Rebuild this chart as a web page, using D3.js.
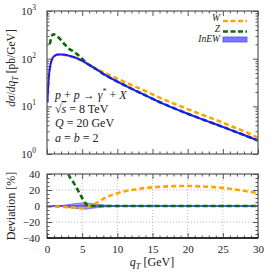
<!DOCTYPE html>
<html>
<head>
<meta charset="utf-8">
<script src="https://d3js.org/d3.v7.min.js"></script>
<style>
body { margin: 0; background: #fff; }
text { font-family: "Liberation Serif", "DejaVu Serif", serif; }
</style>
</head>
<body>
<div id="chart"></div>
<script>
// values
const qT = [0.05, 0.25, 0.5, 0.75, 1, 1.5, 2, 2.5, 3, 4, 5, 6, 7, 8, 9, 10, 12, 14, 16, 18, 20, 22, 24, 26, 28, 30];
const inew = [12, 40, 75, 100, 112, 122, 123, 121, 117, 106, 91, 74, 60, 48, 39.5, 33, 23.5, 17, 12.3, 9.2, 7.0, 5.4, 4.2, 3.25, 2.5, 1.92];
const wModel = [11.9, 39.6, 74, 99, 111, 121, 122, 120, 115, 104, 89, 74, 62, 52, 44.6, 38, 28, 21, 15.2, 11.5, 8.75, 6.7, 5.2, 3.95, 3.0, 2.2];

const zQT = [0.4, 0.6, 0.9, 1.2, 1.5, 2, 2.5, 3, 3.5, 4, 4.5, 5, 5.5, 6, 7, 8, 9, 10, 12, 14, 16, 18, 20, 22, 24, 26, 28, 30];
const zModel = [200, 275, 325, 315, 290, 245, 200, 167, 149, 134, 117, 100, 83, 74, 60, 48, 39.5, 33, 23.5, 17, 12.3, 9.2, 7.0, 5.4, 4.2, 3.25, 2.5, 1.92];

const devQT = [0, 1, 2, 3, 4, 5, 5.5, 6, 7, 8, 9, 10, 12, 14, 16, 18, 20, 22, 24, 26, 28, 30];
const wDev = [-1, -1, -1, -1.5, -2, -2.5, -2, 0, 3.5, 9, 13, 16, 20, 22.5, 24, 24.8, 25, 24.5, 23.5, 21.5, 19, 16];
const bandHalf = [0.2, 0.3, 0.6, 1.8, 3, 3.8, 4, 3.4, 2.3, 1.3, 0.7, 0.4, 0.25, 0.2, 0.2, 0.2, 0.2, 0.2, 0.2, 0.2, 0.2, 0.2];

const zDevQT = [2, 2.5, 3, 3.5, 4, 4.5, 5, 5.5, 6, 30];
const zDev = [99, 65, 41, 33, 26, 18, 10, 3, 0, 0];

const xTicks = [0, 5, 10, 15, 20, 25, 30];
const logTicks = [1, 10, 100, 1000];
const devTicks = [-40, -20, 0, 20, 40];

const legendItems = [
  { label: "W", color: "orange", kind: "dash" },
  { label: "Z", color: "#0b6b0b", kind: "dash" },
  { label: "InEW", color: "#7878ff", kind: "band" }
];

const W = 274, H = 274;
const left = 47, right = 258;
const top1 = 11, bot1 = 154;
const top2 = 174, bot2 = 238;
const frame = "#555";
const orange = "orange", green = "#0b6b0b", blue = "#1a1aff";

const svg = d3.select("#chart").append("svg")
  .attr("width", W).attr("height", H);

const x = d3.scaleLinear().domain([0, 30]).range([left, right]);
const y1 = d3.scaleLog().domain([1, 1000]).range([bot1, top1]);
const y2 = d3.scaleLinear().domain([-40, 40]).range([bot2, top2]);

const defs = svg.append("defs");
defs.append("clipPath").attr("id", "c1").append("rect")
  .attr("x", left).attr("y", top1).attr("width", right - left).attr("height", bot1 - top1);
defs.append("clipPath").attr("id", "c2").append("rect")
  .attr("x", left).attr("y", top2).attr("width", right - left).attr("height", bot2 - top2);

// ---- top panel ----
const p1 = svg.append("g").attr("clip-path", "url(#c1)");

const line1 = (xs, ys) => d3.line()
  .x((d, i) => x(xs[i])).y(d => y1(d))
  .curve(d3.curveMonotoneX)(ys);

p1.append("path").attr("d", line1(qT, wModel))
  .attr("fill", "none").attr("stroke", orange).attr("stroke-width", 2.6)
  .attr("stroke-dasharray", "5,3");
p1.append("path").attr("d", line1(zQT, zModel))
  .attr("fill", "none").attr("stroke", green).attr("stroke-width", 2.6)
  .attr("stroke-dasharray", "5,3");
p1.append("path").attr("d", line1(qT, inew))
  .attr("fill", "none").attr("stroke", blue).attr("stroke-width", 2);

// ---- bottom panel ----
const g2 = svg.append("g");
// dotted grid
g2.selectAll(".gx").data(xTicks.filter(d => d > 0 && d < 30)).join("line")
  .attr("x1", d => x(d)).attr("x2", d => x(d)).attr("y1", top2).attr("y2", bot2)
  .attr("stroke", "#aaa").attr("stroke-width", 0.8).attr("stroke-dasharray", "1,2");
g2.selectAll(".gy").data([-20, 0, 20]).join("line")
  .attr("x1", left).attr("x2", right).attr("y1", d => y2(d)).attr("y2", d => y2(d))
  .attr("stroke", "#aaa").attr("stroke-width", 0.8).attr("stroke-dasharray", "1,2");

const p2 = svg.append("g").attr("clip-path", "url(#c2)");
const band = d3.area()
  .x((d, i) => x(devQT[i]))
  .y0(d => y2(-d)).y1(d => y2(d))
  .curve(d3.curveMonotoneX);
p2.append("path").attr("d", band(bandHalf))
  .attr("fill", "#7878ff").attr("fill-opacity", 0.75)
  .attr("stroke", "#5050ff").attr("stroke-width", 0.6);
p2.append("line").attr("x1", x(0)).attr("x2", x(30)).attr("y1", y2(0)).attr("y2", y2(0))
  .attr("stroke", blue).attr("stroke-width", 1.2);

const line2 = (xs, ys) => d3.line()
  .x((d, i) => x(xs[i])).y(d => y2(d))
  .curve(d3.curveMonotoneX)(ys);
p2.append("path").attr("d", line2(devQT, wDev))
  .attr("fill", "none").attr("stroke", orange).attr("stroke-width", 2.6)
  .attr("stroke-dasharray", "5,3");
p2.append("path").attr("d", line2(zDevQT, zDev))
  .attr("fill", "none").attr("stroke", green).attr("stroke-width", 2.6)
  .attr("stroke-dasharray", "5,3");

// ---- axes and ticks ----
function styleAxis(g) {
  g.select(".domain").remove();
  g.selectAll(".tick line").attr("stroke", frame).attr("stroke-width", 1);
  g.selectAll(".tick text").attr("fill", "#222").attr("font-size", 11);
}
const minorX = d3.range(0, 31, 1).filter(d => d % 5 !== 0);
const minorLog = [];
[1, 10, 100].forEach(b => { for (let k = 2; k <= 9; k++) minorLog.push(b * k); });
const minorDev = d3.range(-40, 41, 5).filter(d => d % 20 !== 0);

// top panel x ticks (no labels)
[[bot1, d3.axisBottom, -5], [top1, d3.axisTop, -5]].forEach(([yy, ax, s]) => {
  svg.append("g").attr("transform", `translate(0,${yy})`)
    .call(ax(x).tickValues(xTicks).tickSize(s).tickFormat("")).call(styleAxis);
  svg.append("g").attr("transform", `translate(0,${yy})`)
    .call(ax(x).tickValues(minorX).tickSize(-2.5).tickFormat("")).call(styleAxis);
});
// top panel y ticks
svg.append("g").attr("transform", `translate(${left},0)`)
  .call(d3.axisLeft(y1).tickValues(logTicks).tickSize(-5).tickPadding(6).tickFormat(""))
  .call(styleAxis);
svg.append("g").attr("transform", `translate(${left},0)`)
  .call(d3.axisLeft(y1).tickValues(minorLog).tickSize(-2.5).tickFormat(""))
  .call(styleAxis);
svg.append("g").attr("transform", `translate(${right},0)`)
  .call(d3.axisRight(y1).tickValues(logTicks).tickSize(-5).tickFormat(""))
  .call(styleAxis);
svg.append("g").attr("transform", `translate(${right},0)`)
  .call(d3.axisRight(y1).tickValues(minorLog).tickSize(-2.5).tickFormat(""))
  .call(styleAxis);
// log labels 10^n
const logLab = svg.append("g").selectAll("text").data(logTicks).join("text")
  .attr("x", 36).attr("y", d => y1(d) + 4)
  .attr("text-anchor", "end").attr("font-size", 11).attr("fill", "#222");
logLab.append("tspan").text("10");
logLab.append("tspan").attr("dy", -5).attr("font-size", 7.5)
  .text(d => String(Math.round(Math.log10(d))));

// bottom panel ticks
svg.append("g").attr("transform", `translate(0,${bot2})`)
  .call(d3.axisBottom(x).tickValues(xTicks).tickSize(-5).tickPadding(7).tickFormat(d3.format("d")))
  .call(styleAxis);
svg.append("g").attr("transform", `translate(0,${bot2})`)
  .call(d3.axisBottom(x).tickValues(minorX).tickSize(-2.5).tickFormat("")).call(styleAxis);
svg.append("g").attr("transform", `translate(0,${top2})`)
  .call(d3.axisTop(x).tickValues(xTicks).tickSize(-5).tickFormat("")).call(styleAxis);
svg.append("g").attr("transform", `translate(0,${top2})`)
  .call(d3.axisTop(x).tickValues(minorX).tickSize(-2.5).tickFormat("")).call(styleAxis);
svg.append("g").attr("transform", `translate(${left},0)`)
  .call(d3.axisLeft(y2).tickValues(devTicks).tickSize(-5).tickPadding(7).tickFormat(d3.format("d")))
  .call(styleAxis);
svg.append("g").attr("transform", `translate(${left},0)`)
  .call(d3.axisLeft(y2).tickValues(minorDev).tickSize(-2.5).tickFormat("")).call(styleAxis);
svg.append("g").attr("transform", `translate(${right},0)`)
  .call(d3.axisRight(y2).tickValues(devTicks).tickSize(-5).tickFormat("")).call(styleAxis);
svg.append("g").attr("transform", `translate(${right},0)`)
  .call(d3.axisRight(y2).tickValues(minorDev).tickSize(-2.5).tickFormat("")).call(styleAxis);

// frames
svg.append("rect").attr("x", left).attr("y", top1).attr("width", right - left).attr("height", bot1 - top1)
  .attr("fill", "none").attr("stroke", frame).attr("stroke-width", 1.2);
svg.append("rect").attr("x", left).attr("y", top2).attr("width", right - left).attr("height", bot2 - top2)
  .attr("fill", "none").attr("stroke", frame).attr("stroke-width", 1.2);
svg.append("line").attr("x1", left).attr("x2", right).attr("y1", bot2).attr("y2", bot2)
  .attr("stroke", "#111").attr("stroke-width", 1.5);

// ---- labels ----
const yl1 = svg.append("text").attr("transform", "translate(15,68) rotate(-90)")
  .attr("text-anchor", "middle").attr("font-size", 11.5).attr("fill", "#222");
yl1.append("tspan").attr("font-style", "italic").text("dσ");
yl1.append("tspan").text("/");
yl1.append("tspan").attr("font-style", "italic").text("dq");
yl1.append("tspan").attr("font-style", "italic").attr("font-size", 8).attr("dy", 3).text("T");
yl1.append("tspan").attr("dy", -3).text(" [pb/GeV]");

svg.append("text").attr("transform", "translate(15,206) rotate(-90)")
  .attr("text-anchor", "middle").attr("font-size", 12).attr("fill", "#222")
  .text("Deviation [%]");

const xl = svg.append("text").attr("x", 152).attr("y", 266)
  .attr("text-anchor", "middle").attr("font-size", 12).attr("fill", "#222");
xl.append("tspan").attr("font-style", "italic").text("q");
xl.append("tspan").attr("font-style", "italic").attr("font-size", 8.5).attr("dy", 3).text("T");
xl.append("tspan").attr("dy", -3).text(" [GeV]");

// process annotation
const ann = svg.append("g").attr("font-size", 12).attr("fill", "#222");
const a1 = ann.append("text").attr("x", 55).attr("y", 99);
a1.append("tspan").attr("font-style", "italic").text("p");
a1.append("tspan").text(" + ");
a1.append("tspan").attr("font-style", "italic").text("p");
a1.append("tspan").text(" → ");
a1.append("tspan").attr("font-style", "italic").text("γ");
a1.append("tspan").attr("font-size", 8).attr("dy", -5).text("*");
a1.append("tspan").attr("dy", 5).text(" + ");
a1.append("tspan").attr("font-style", "italic").text("X");
const a2 = ann.append("text").attr("x", 55).attr("y", 113);
a2.append("tspan").text("√");
a2.append("tspan").attr("font-style", "italic").attr("text-decoration", "overline").text("s");
a2.append("tspan").text(" = 8 TeV");
const a3 = ann.append("text").attr("x", 55).attr("y", 127);
a3.append("tspan").attr("font-style", "italic").text("Q");
a3.append("tspan").text(" = 20 GeV");
const a4 = ann.append("text").attr("x", 55).attr("y", 142);
a4.append("tspan").attr("font-style", "italic").text("a");
a4.append("tspan").text(" = ");
a4.append("tspan").attr("font-style", "italic").text("b");
a4.append("tspan").text(" = 2");

// legend
const legY = [21, 31.5, 42];
const leg = svg.append("g").selectAll("g").data(legendItems).join("g")
  .attr("transform", (d, i) => `translate(0,${legY[i]})`);
leg.append("text").attr("x", 220).attr("y", 0).attr("text-anchor", "end")
  .attr("font-size", 9.5).attr("font-style", "italic").attr("fill", "#222")
  .text(d => d.label);
leg.filter(d => d.kind === "dash").append("line")
  .attr("x1", 223).attr("x2", 247).attr("y1", 0).attr("y2", 0)
  .attr("stroke", d => d.color).attr("stroke-width", 2.6).attr("stroke-dasharray", "5,2.5");
leg.filter(d => d.kind === "band").append("rect")
  .attr("x", 223).attr("y", -5).attr("width", 24).attr("height", 5)
  .attr("fill", d => d.color).attr("stroke", "#5050ff").attr("stroke-width", 0.8);
</script>
</body>
</html>
